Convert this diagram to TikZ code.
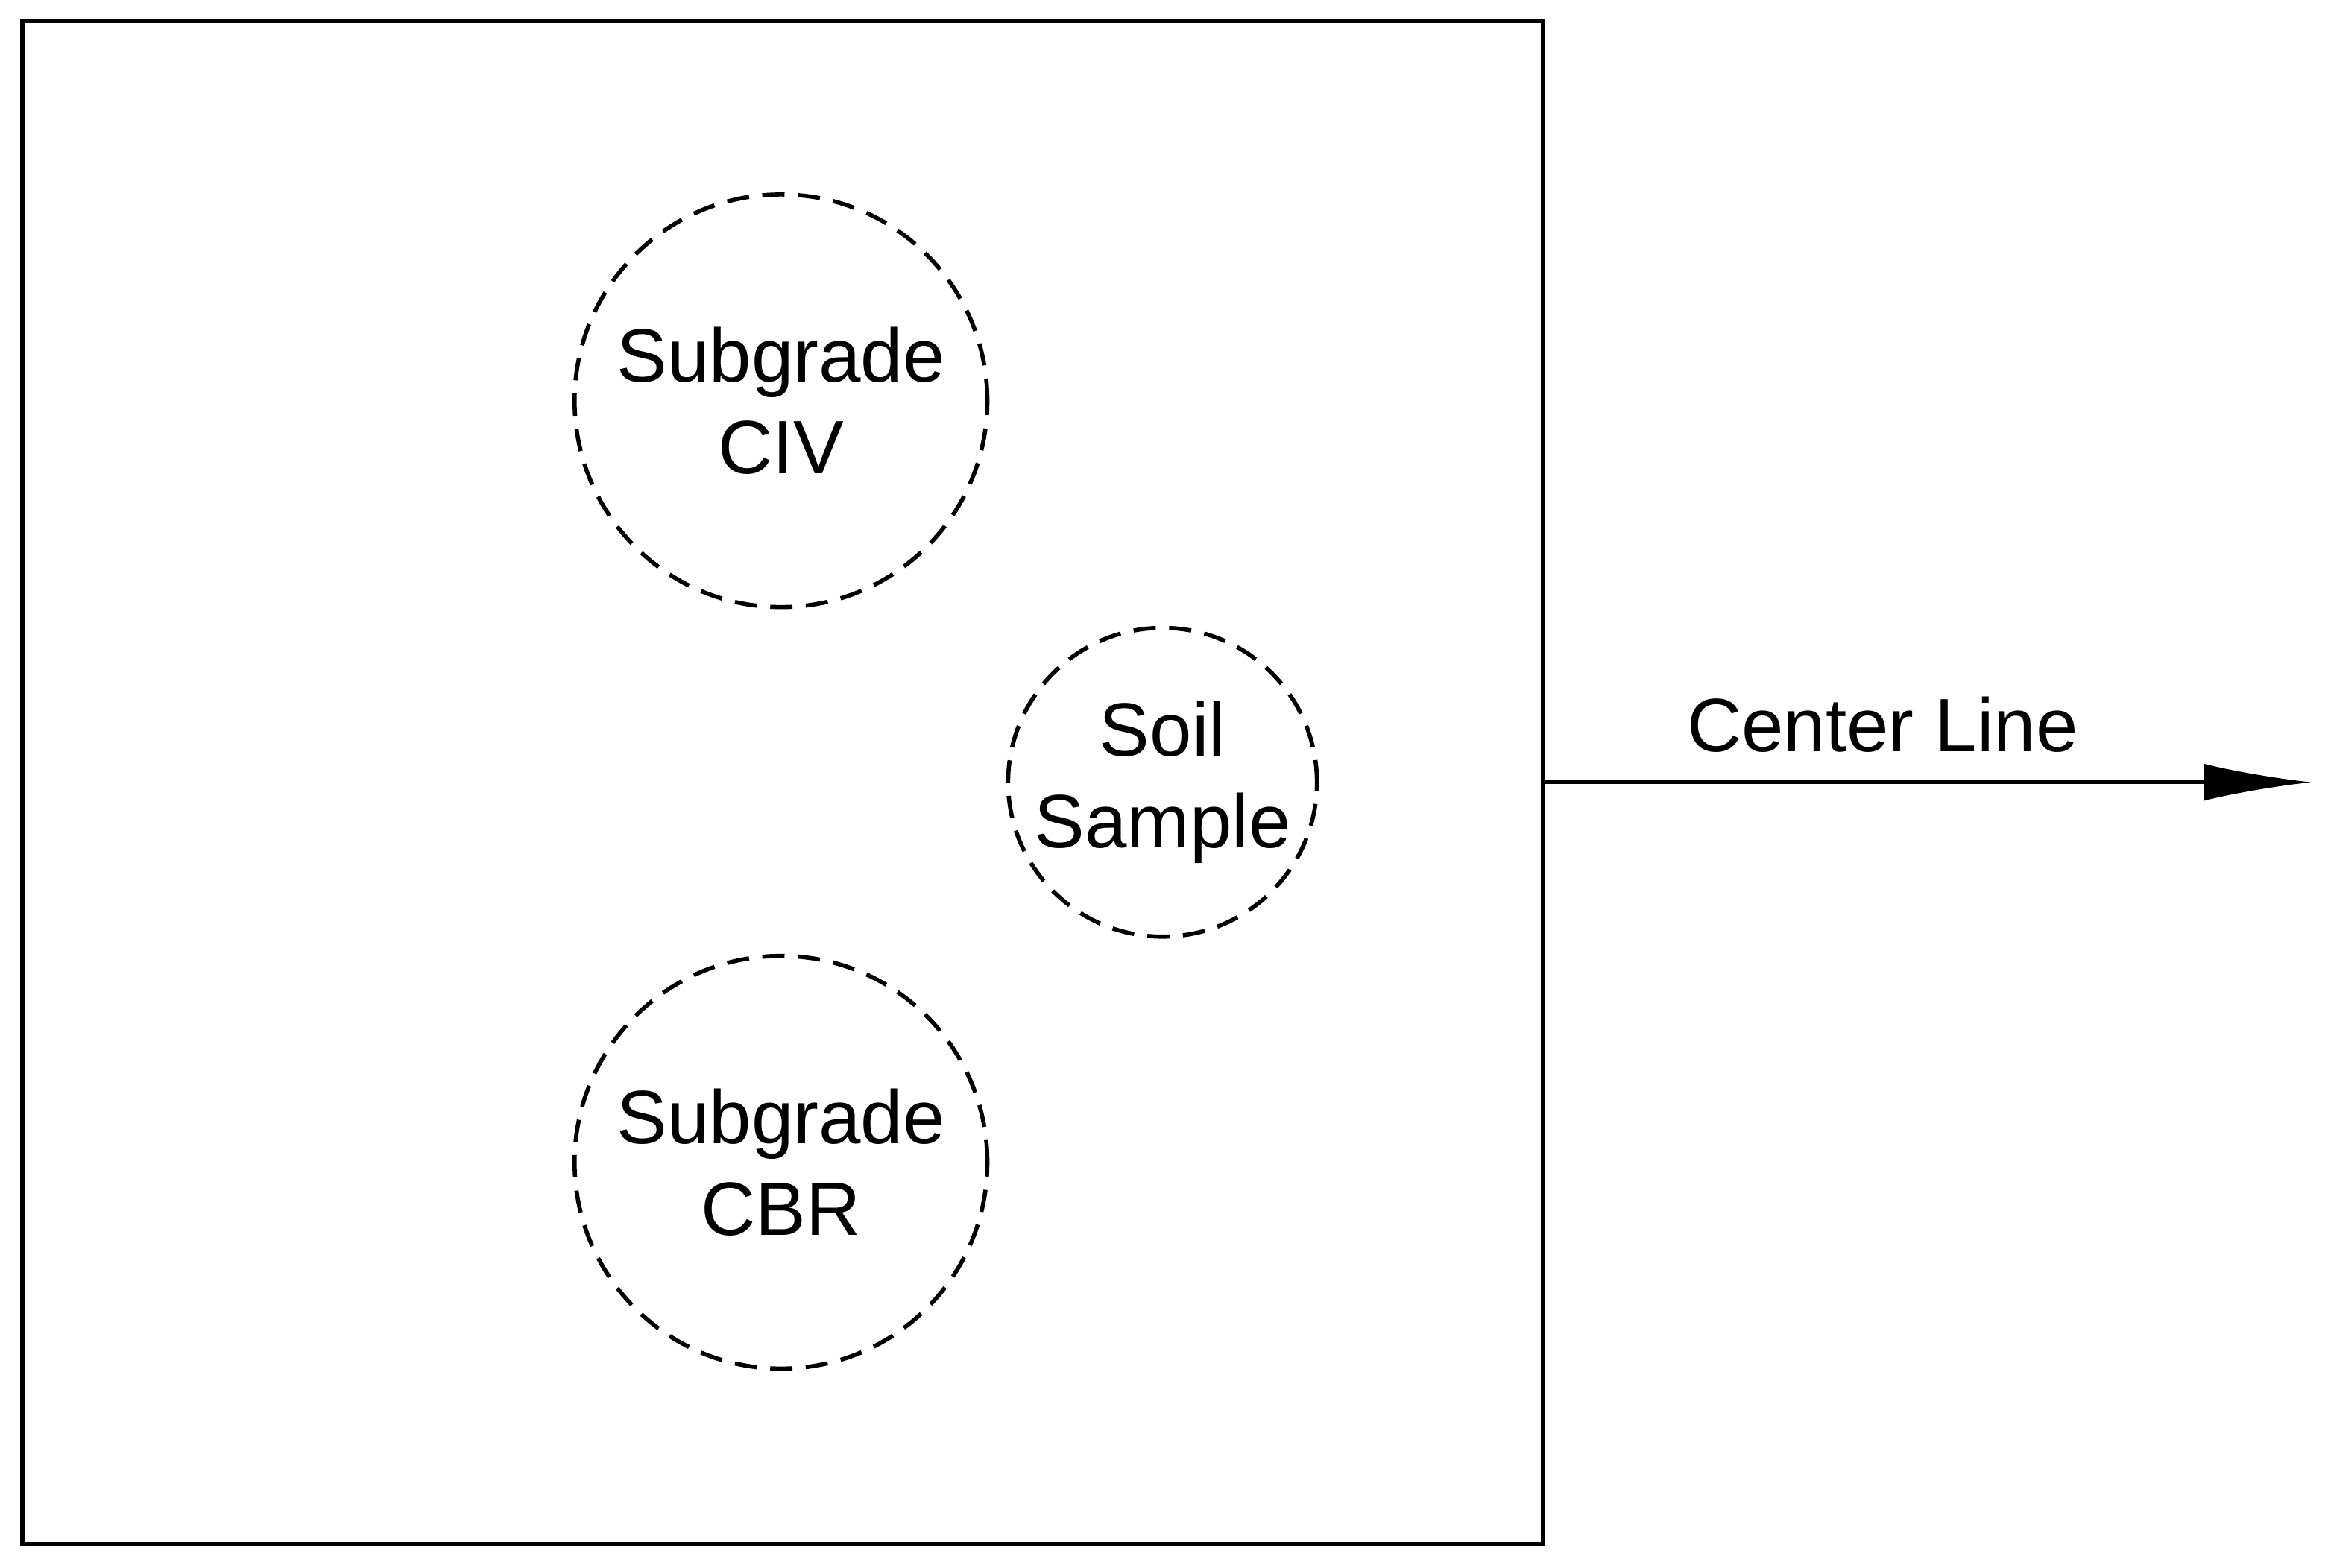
\documentclass[tikz,border=0pt]{standalone}
\usepackage{fontspec}
\setmainfont{Liberation Sans}
\usetikzlibrary{arrows.meta}
\begin{document}
\begin{tikzpicture}[x=0.02cm,y=-0.02cm,
  lbl/.style={font=\fontsize{29}{35}\selectfont,align=center,inner sep=0pt},
  zone/.style={circle,draw,line width=1.6pt,dash pattern=on 0.3cm off 0.18cm,inner sep=0pt,lbl},
  every path/.style={line width=1.6pt}]
\useasboundingbox (0,0) rectangle (1568,1056);
\node[draw,line width=1.6pt,minimum width=1024*0.02cm,minimum height=1026*0.02cm,inner sep=0pt] (box) at (527,527) {};
\node[zone,minimum size=278*0.02cm] (civ) at (526,270) {Subgrade\\CIV};
\node[zone,minimum size=208*0.02cm] (soil) at (783,527) {Soil\\Sample};
\node[zone,minimum size=278*0.02cm] (cbr) at (526,783) {Subgrade\\CBR};
\coordinate (end) at (1557,527);
\draw[-{Latex[length=1.45cm,width=0.5cm]}] (box.east) -- (end);
\node[lbl] (cl) at (1268,488) {Center Line};
\end{tikzpicture}
\end{document}
